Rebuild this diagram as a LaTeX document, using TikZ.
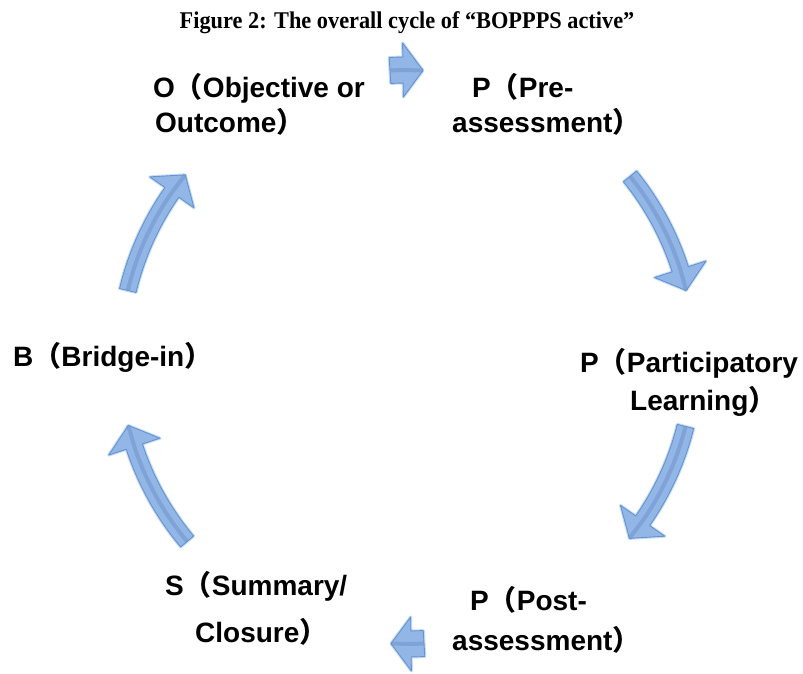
\documentclass[tikz,border=0pt]{standalone}
\usepackage{fontspec}
\setmainfont{Liberation Sans}
\newfontfamily\cjk{Noto Sans CJK SC}
\newfontfamily\titlefont{Liberation Serif}
\definecolor{arrfill}{RGB}{146,182,230}
\definecolor{arredge}{RGB}{104,146,206}
\definecolor{arrglow}{RGB}{196,222,248}
\definecolor{arrdark}{RGB}{112,148,204}
\newcommand{\myLP}{{\cjk （}}
\newcommand{\myRP}{{\cjk ）}}
\tikzset{
  lbl/.style={anchor=base west, inner sep=0pt, font=\fontsize{28}{30}\selectfont\bfseries},
  arrowshape/.style={fill=arrfill, draw=arredge, line width=0.9pt, line join=round},
  arrowglow/.style={draw=arrglow, line width=3pt, line join=round},
  arrowbevel/.style={draw=arrdark, line width=4pt, opacity=0.55}
}
% #1 tail angle, #2 head-base angle, #3 tip angle, #4 shaft half width, #5 head half width
\newcommand{\cycarrow}[5]{%
  \pgfmathsetmacro\Ro{287+#4}\pgfmathsetmacro\Ri{287-#4}%
  \pgfmathsetmacro\Ho{287+#5}\pgfmathsetmacro\Hi{287-#5}%
  \foreach \sty in {arrowglow,arrowshape}{%
  \path[\sty] (#1:\Ro) arc[start angle=#1, end angle=#2, radius=\Ro]
    -- (#2:\Ho) -- (#3:287) -- (#2:\Hi) -- (#2:\Ri)
    arc[start angle=#2, end angle=#1, radius=\Ri] -- cycle;}%
  \path[arrowbevel] (#1:287) arc[start angle=#1, end angle=#2, radius=287] -- (#3:287);%
}
\begin{document}
\begin{tikzpicture}[x=1pt,y=1pt]
\useasboundingbox (0,0) rectangle (803,673);
\fill[white] (0,0) rectangle (803,673);

\node (title) at (407,650) {\titlefont\bfseries\fontsize{24}{26}\selectfont\scalebox{0.93}[1]{Figure 2: The overall cycle of “BOPPPS active”}};

\begin{scope}[shift={(407,316)}]
  \cycarrow{93.4}{90.8}{86.8}{13}{27}
  \cycarrow{39}{17.8}{13.4}{8.5}{27}
  \cycarrow{-14}{-34.8}{-39.2}{8.5}{27}
  \cycarrow{-86.6}{-89.2}{-93.2}{13}{27}
  \cycarrow{220}{198.2}{193.8}{8.5}{27}
  \cycarrow{166.6}{145}{140.6}{8.5}{27}
\end{scope}

\node[lbl] (o1) at (153,575) {O\myLP Objective or};
\node[lbl] (o2) at (155,540) {Outcome\myRP};
\node[lbl] (pa1) at (472,575) {P\myLP Pre-};
\node[lbl] (pa2) at (452,540) {assessment\myRP};
\node[lbl] (pb1) at (580,301) {P\myLP Participatory};
\node[lbl] (pb2) at (630,263) {Learning\myRP};
\node[lbl] (b) at (13,307) {B\myLP Bridge-in\myRP};
\node[lbl] (s1) at (165,78) {S\myLP Summary/};
\node[lbl] (s2) at (195,31) {Closure\myRP};
\node[lbl] (pc1) at (470,63) {P\myLP Post-};
\node[lbl] (pc2) at (452,23) {assessment\myRP};
\end{tikzpicture}
\end{document}
